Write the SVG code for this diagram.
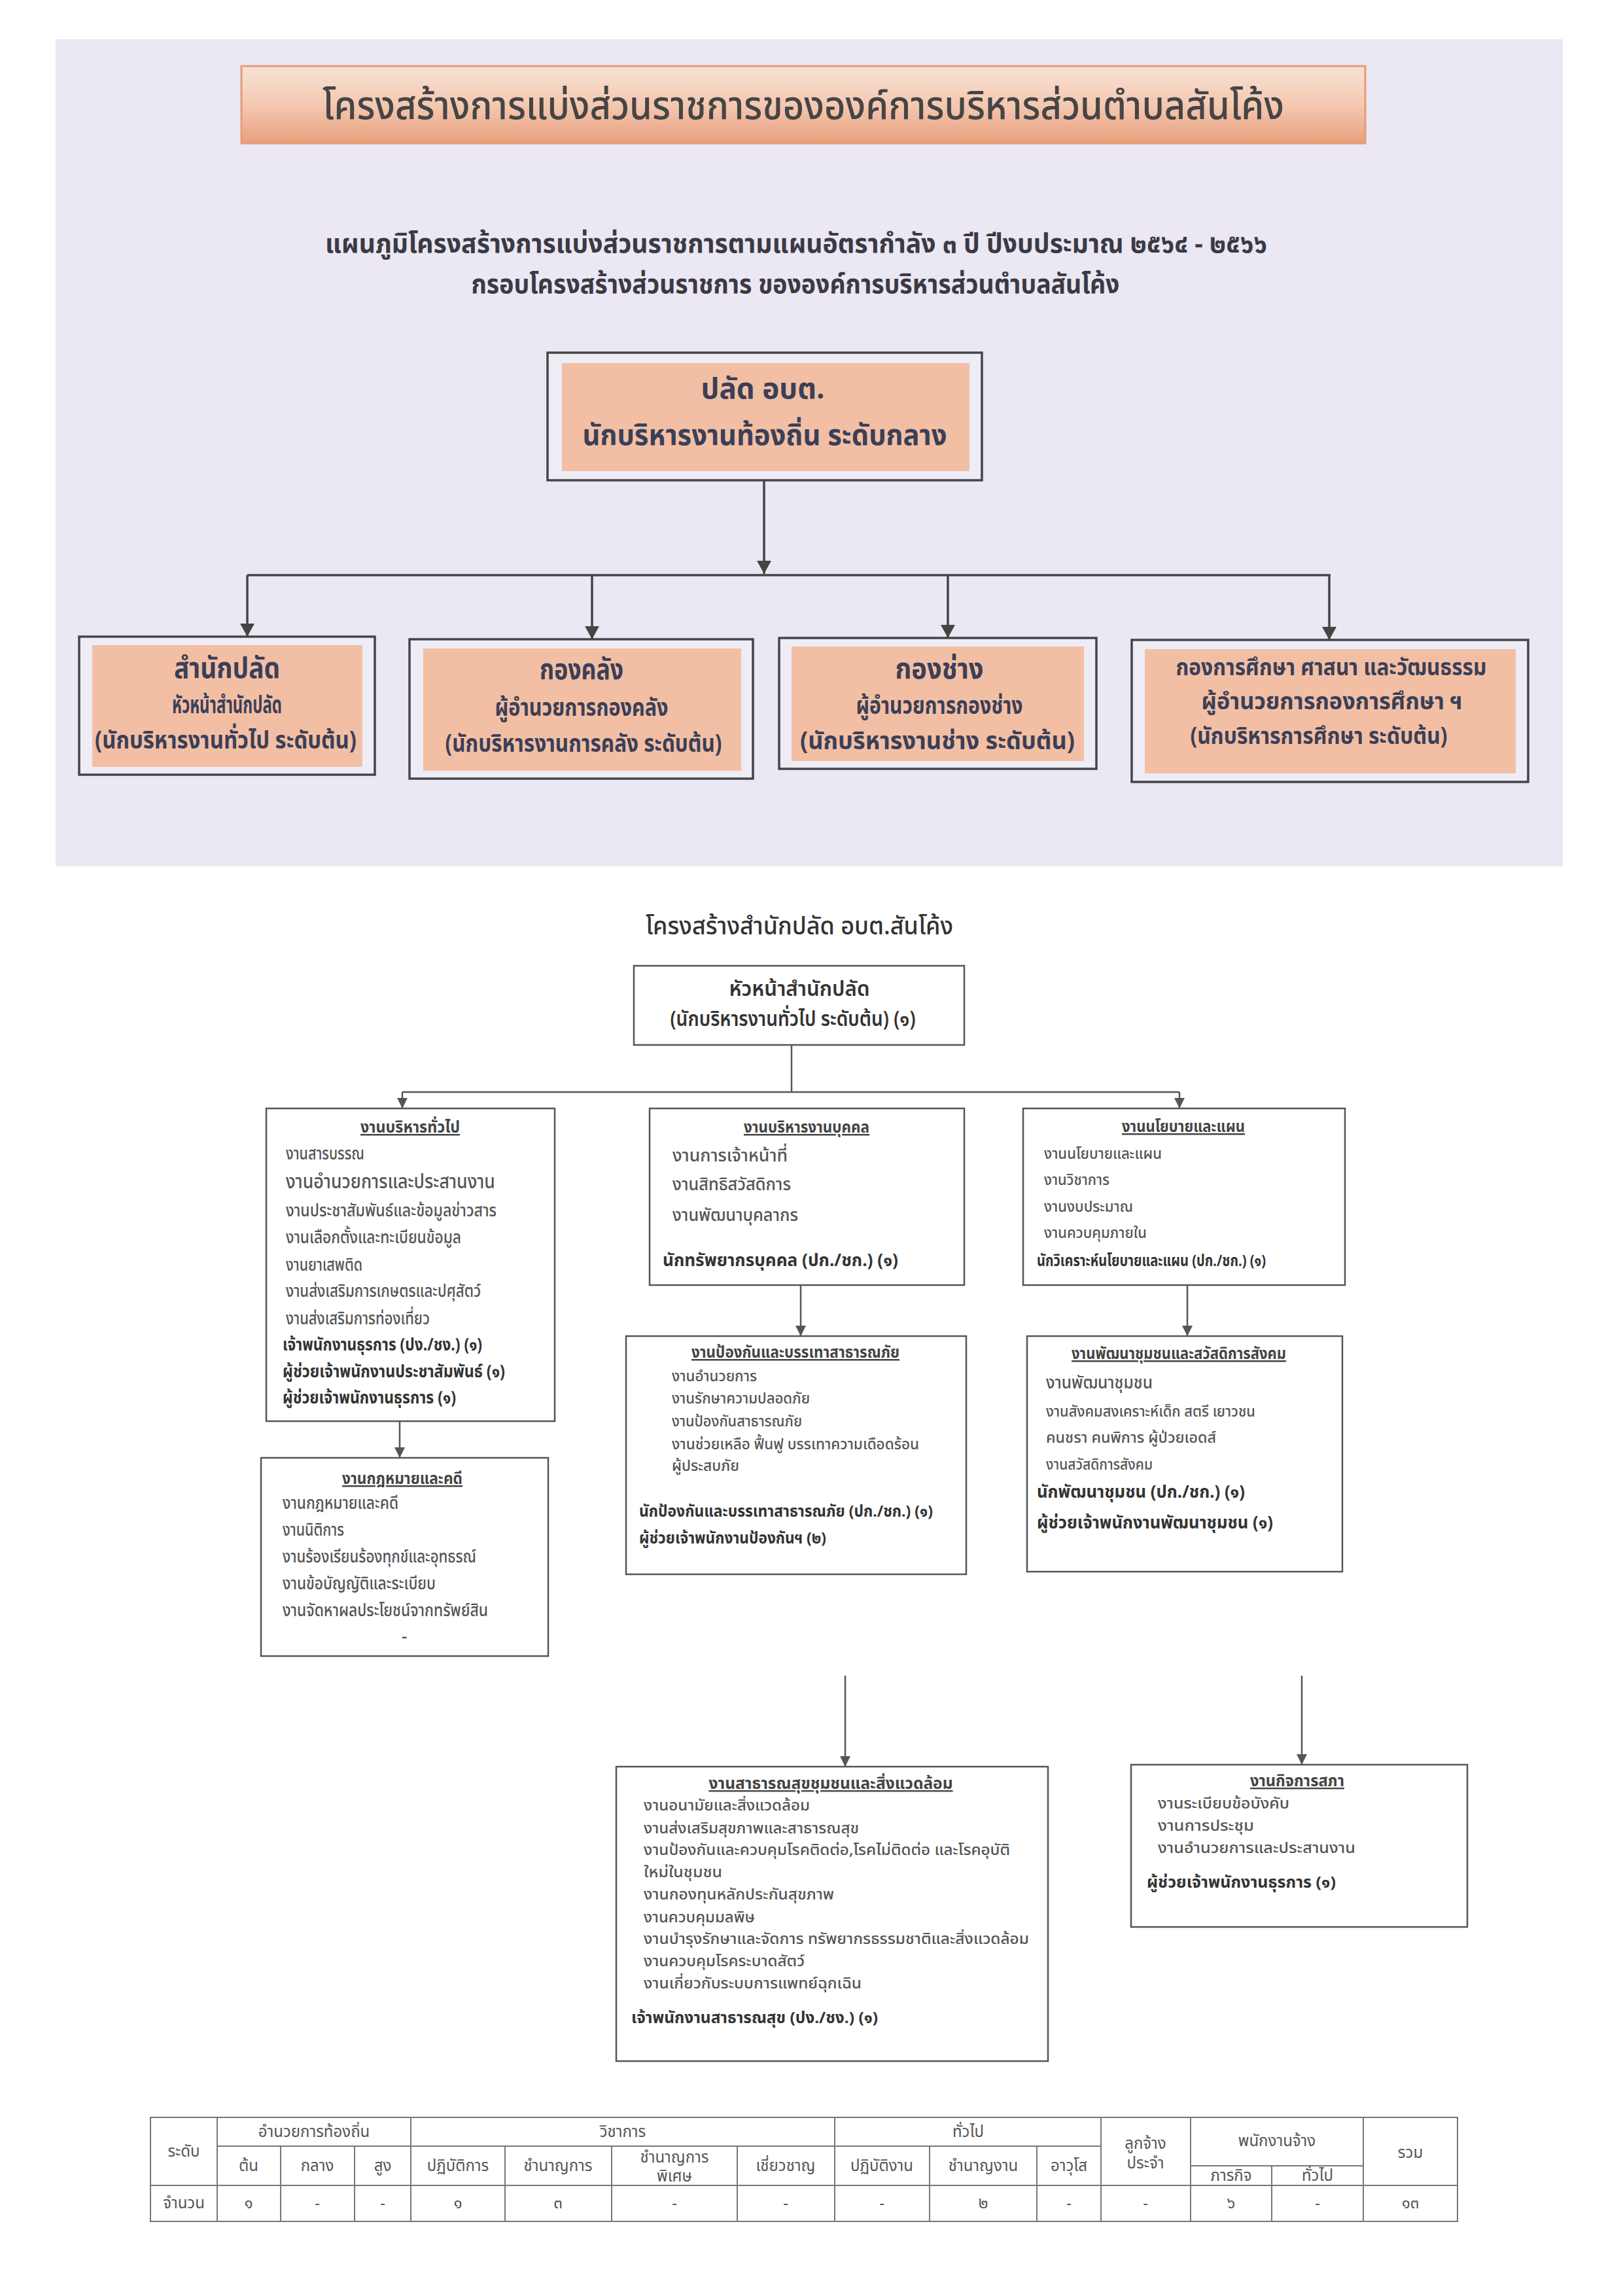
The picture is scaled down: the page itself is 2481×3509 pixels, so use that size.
<svg xmlns="http://www.w3.org/2000/svg" width="2481" height="3509" viewBox="0 0 2481 3509">
<style>
text{font-family:"Noto Sans Thai","Noto Sans","DejaVu Sans",sans-serif}
.t0{font-size:60px;font-weight:500;fill:#454545;text-anchor:middle}
.st{font-size:40px;font-weight:bold;fill:#3a3a44;text-anchor:middle}
.bx{fill:#eeecf5;stroke:#454545;stroke-width:3.5}
.in{fill:#f3bfa4}
.h1{font-size:44px;font-weight:bold;fill:#3b3f58;text-anchor:middle}
.h2{font-size:38px;font-weight:bold;fill:#3b3f58;text-anchor:middle}
.h3{font-size:35px;font-weight:bold;fill:#3b3f58;text-anchor:middle}
.lb{fill:#ffffff;stroke:#555;stroke-width:2.5}
.ltitle{font-size:38px;font-weight:500;fill:#333;text-anchor:middle}
.hd{font-size:32px;font-weight:600;fill:#333;text-anchor:middle}
.hg{font-size:25px;font-weight:bold;fill:#444;text-anchor:middle;text-decoration:underline}
.it{font-size:27px;font-weight:500;fill:#555}
.its{font-size:23px;font-weight:500;fill:#555}
.rl{font-size:27px;font-weight:bold;fill:#333}
.rls{font-size:24px;font-weight:bold;fill:#333}
.cn{fill:none;stroke:#454545;stroke-width:3.5}
.cl{fill:none;stroke:#555;stroke-width:2.5}
.tb{fill:none;stroke:#777;stroke-width:2}
.tt{font-size:24px;fill:#555;text-anchor:middle}
</style>
<defs>
<linearGradient id="ban" x1="0" y1="0" x2="0" y2="1">
<stop offset="0" stop-color="#f8e2d6"/>
<stop offset="0.5" stop-color="#f4c8b1"/>
<stop offset="1" stop-color="#e9a07c"/>
</linearGradient>
<marker id="a1" markerWidth="20" markerHeight="22" refX="20" refY="11" orient="auto" markerUnits="userSpaceOnUse"><path d="M0,0 L20,11 L0,22 z" fill="#454545"/></marker>
<marker id="a2" markerWidth="16" markerHeight="16" refX="16" refY="8" orient="auto" markerUnits="userSpaceOnUse"><path d="M0,0 L16,8 L0,16 z" fill="#555"/></marker>
</defs>
<rect x="0" y="0" width="2481" height="3509" fill="#ffffff"/>
<rect x="85" y="60" width="2304" height="1264" fill="#ebe7f3"/>

<g id="title">
<rect x="369" y="101" width="1718" height="118" fill="url(#ban)" stroke="#e59c79" stroke-width="3"/>
<text class="t0" x="1228" y="182" textLength="1470" lengthAdjust="spacingAndGlyphs">โครงสร้างการแบ่งส่วนราชการขององค์การบริหารส่วนตำบลสันโค้ง</text>
</g>
<g id="subtitle">
<text class="st" x="1217" y="386" textLength="1440" lengthAdjust="spacingAndGlyphs">แผนภูมิโครงสร้างการแบ่งส่วนราชการตามแผนอัตรากำลัง ๓ ปี ปีงบประมาณ ๒๕๖๔ - ๒๕๖๖</text>
<text class="st" x="1216" y="448" textLength="991" lengthAdjust="spacingAndGlyphs">กรอบโครงสร้างส่วนราชการ ขององค์การบริหารส่วนตำบลสันโค้ง</text>
</g>

<g id="node-palad">
<rect class="bx" x="837" y="539" width="664" height="195"/>
<rect class="in" x="859" y="555" width="623" height="165"/>
<text class="h1" x="1166" y="609" textLength="189" lengthAdjust="spacingAndGlyphs">ปลัด อบต.</text>
<text class="h1" x="1169" y="680" textLength="557" lengthAdjust="spacingAndGlyphs">นักบริหารงานท้องถิ่น ระดับกลาง</text>
</g>

<g id="node-office">
<rect class="bx" x="121" y="973" width="452" height="211"/>
<rect class="in" x="141" y="986" width="413" height="186"/>
<text class="h1" x="347" y="1036" textLength="162" lengthAdjust="spacingAndGlyphs">สำนักปลัด</text>
<text class="h2" x="347" y="1090" textLength="168" lengthAdjust="spacingAndGlyphs">หัวหน้าสำนักปลัด</text>
<text class="h2" x="345" y="1144" textLength="400" lengthAdjust="spacingAndGlyphs">(นักบริหารงานทั่วไป ระดับต้น)</text>
</g>

<g id="node-finance">
<rect class="bx" x="626" y="977" width="525" height="213"/>
<rect class="in" x="647" y="991" width="486" height="187"/>
<text class="h1" x="889" y="1038" textLength="128" lengthAdjust="spacingAndGlyphs">กองคลัง</text>
<text class="h2" x="889" y="1094" textLength="265" lengthAdjust="spacingAndGlyphs">ผู้อำนวยการกองคลัง</text>
<text class="h2" x="892" y="1149" textLength="423" lengthAdjust="spacingAndGlyphs">(นักบริหารงานการคลัง ระดับต้น)</text>
</g>

<g id="node-engineering">
<rect class="bx" x="1191" y="975" width="485" height="200"/>
<rect class="in" x="1210" y="988" width="447" height="175"/>
<text class="h1" x="1436" y="1037" textLength="135" lengthAdjust="spacingAndGlyphs">กองช่าง</text>
<text class="h2" x="1436" y="1091" textLength="255" lengthAdjust="spacingAndGlyphs">ผู้อำนวยการกองช่าง</text>
<text class="h2" x="1433" y="1145" textLength="420" lengthAdjust="spacingAndGlyphs">(นักบริหารงานช่าง ระดับต้น)</text>
</g>

<g id="node-education">
<rect class="bx" x="1730" y="978" width="606" height="217"/>
<rect class="in" x="1750" y="992" width="567" height="190"/>
<text class="h3" x="2035" y="1032" textLength="475" lengthAdjust="spacingAndGlyphs">กองการศึกษา ศาสนา และวัฒนธรรม</text>
<text class="h3" x="2036" y="1084" textLength="399" lengthAdjust="spacingAndGlyphs">ผู้อำนวยการกองการศึกษา ฯ</text>
<text class="h3" x="2016" y="1137" textLength="393" lengthAdjust="spacingAndGlyphs">(นักบริหารการศึกษา ระดับต้น)</text>
</g>

<g id="connectors-top">
<path class="cn" d="M1168 734 V877" marker-end="url(#a1)"/>
<path class="cn" d="M378 879 H2034"/>
<path class="cn" d="M378 879 V973" marker-end="url(#a1)"/>
<path class="cn" d="M905 879 V977" marker-end="url(#a1)"/>
<path class="cn" d="M1449 879 V975" marker-end="url(#a1)"/>
<path class="cn" d="M2032 879 V978" marker-end="url(#a1)"/>
</g>

<g id="lower-title">
<text class="ltitle" x="1222" y="1428" textLength="470" lengthAdjust="spacingAndGlyphs">โครงสร้างสำนักปลัด อบต.สันโค้ง</text>
</g>

<g id="node-head">
<rect class="lb" x="969" y="1476" width="505" height="121"/>
<text class="hd" x="1222" y="1522" textLength="215" lengthAdjust="spacingAndGlyphs">หัวหน้าสำนักปลัด</text>
<text class="hd" x="1212" y="1568" textLength="375" lengthAdjust="spacingAndGlyphs">(นักบริหารงานทั่วไป ระดับต้น) (๑)</text>
</g>

<g id="node-general">
<rect class="lb" x="407" y="1694" width="441" height="478"/>
<text class="hg" x="627" y="1731" textLength="152" lengthAdjust="spacingAndGlyphs">งานบริหารทั่วไป</text>
<text class="it" x="437" y="1772" textLength="120" lengthAdjust="spacingAndGlyphs">งานสารบรรณ</text>
<text class="it" x="437" y="1816" style="font-size:30px" textLength="320" lengthAdjust="spacingAndGlyphs">งานอำนวยการและประสานงาน</text>
<text class="it" x="437" y="1859" textLength="322" lengthAdjust="spacingAndGlyphs">งานประชาสัมพันธ์และข้อมูลข่าวสาร</text>
<text class="it" x="437" y="1900" textLength="268" lengthAdjust="spacingAndGlyphs">งานเลือกตั้งและทะเบียนข้อมูล</text>
<text class="it" x="437" y="1942" textLength="117" lengthAdjust="spacingAndGlyphs">งานยาเสพติด</text>
<text class="it" x="437" y="1982" textLength="298" lengthAdjust="spacingAndGlyphs">งานส่งเสริมการเกษตรและปศุสัตว์</text>
<text class="it" x="437" y="2024" textLength="220" lengthAdjust="spacingAndGlyphs">งานส่งเสริมการท่องเที่ยว</text>
<text class="rl" x="432" y="2064" textLength="305" lengthAdjust="spacingAndGlyphs">เจ้าพนักงานธุรการ (ปง./ชง.) (๑)</text>
<text class="rl" x="432" y="2105" textLength="340" lengthAdjust="spacingAndGlyphs">ผู้ช่วยเจ้าพนักงานประชาสัมพันธ์ (๑)</text>
<text class="rl" x="432" y="2145" textLength="265" lengthAdjust="spacingAndGlyphs">ผู้ช่วยเจ้าพนักงานธุรการ (๑)</text>
</g>

<g id="node-law">
<rect class="lb" x="399" y="2228" width="439" height="303"/>
<text class="hg" x="615" y="2268" textLength="184" lengthAdjust="spacingAndGlyphs">งานกฎหมายและคดี</text>
<text class="it" x="432" y="2306" textLength="177" lengthAdjust="spacingAndGlyphs">งานกฎหมายและคดี</text>
<text class="it" x="432" y="2347" textLength="94" lengthAdjust="spacingAndGlyphs">งานนิติการ</text>
<text class="it" x="432" y="2388" textLength="296" lengthAdjust="spacingAndGlyphs">งานร้องเรียนร้องทุกข์และอุทธรณ์</text>
<text class="it" x="432" y="2429" textLength="234" lengthAdjust="spacingAndGlyphs">งานข้อบัญญัติและระเบียบ</text>
<text class="it" x="432" y="2470" textLength="314" lengthAdjust="spacingAndGlyphs">งานจัดหาผลประโยชน์จากทรัพย์สิน</text>
<text class="it" x="618" y="2510" style="text-anchor:middle">-</text>
</g>

<g id="node-personnel">
<rect class="lb" x="993" y="1694" width="481" height="270"/>
<text class="hg" x="1233" y="1731" textLength="192" lengthAdjust="spacingAndGlyphs">งานบริหารงานบุคคล</text>
<text class="it" x="1028" y="1775" textLength="176" lengthAdjust="spacingAndGlyphs">งานการเจ้าหน้าที่</text>
<text class="it" x="1028" y="1819" textLength="181" lengthAdjust="spacingAndGlyphs">งานสิทธิสวัสดิการ</text>
<text class="it" x="1028" y="1866" textLength="192" lengthAdjust="spacingAndGlyphs">งานพัฒนาบุคลากร</text>
<text class="rl" x="1013" y="1935" textLength="360" lengthAdjust="spacingAndGlyphs">นักทรัพยากรบุคคล (ปก./ชก.) (๑)</text>
</g>

<g id="node-disaster">
<rect class="lb" x="957" y="2042" width="520" height="364"/>
<text class="hg" x="1216" y="2075" textLength="318" lengthAdjust="spacingAndGlyphs">งานป้องกันและบรรเทาสาธารณภัย</text>
<text class="its" x="1027" y="2111" textLength="130" lengthAdjust="spacingAndGlyphs">งานอำนวยการ</text>
<text class="its" x="1027" y="2145" textLength="211" lengthAdjust="spacingAndGlyphs">งานรักษาความปลอดภัย</text>
<text class="its" x="1027" y="2180" textLength="199" lengthAdjust="spacingAndGlyphs">งานป้องกันสาธารณภัย</text>
<text class="its" x="1027" y="2215" textLength="378" lengthAdjust="spacingAndGlyphs">งานช่วยเหลือ ฟื้นฟู บรรเทาความเดือดร้อน</text>
<text class="its" x="1027" y="2248" textLength="103" lengthAdjust="spacingAndGlyphs">ผู้ประสบภัย</text>
<text class="rls" x="977" y="2318" textLength="449" lengthAdjust="spacingAndGlyphs">นักป้องกันและบรรเทาสาธารณภัย (ปก./ชก.) (๑)</text>
<text class="rls" x="977" y="2359" textLength="286" lengthAdjust="spacingAndGlyphs">ผู้ช่วยเจ้าพนักงานป้องกันฯ (๒)</text>
</g>

<g id="node-policy">
<rect class="lb" x="1564" y="1694" width="492" height="270"/>
<text class="hg" x="1809" y="1730" textLength="188" lengthAdjust="spacingAndGlyphs">งานนโยบายและแผน</text>
<text class="its" x="1596" y="1771" textLength="180" lengthAdjust="spacingAndGlyphs">งานนโยบายและแผน</text>
<text class="its" x="1596" y="1811" textLength="100" lengthAdjust="spacingAndGlyphs">งานวิชาการ</text>
<text class="its" x="1596" y="1852" textLength="136" lengthAdjust="spacingAndGlyphs">งานงบประมาณ</text>
<text class="its" x="1596" y="1892" textLength="157" lengthAdjust="spacingAndGlyphs">งานควบคุมภายใน</text>
<text class="rls" x="1585" y="1935" textLength="350" lengthAdjust="spacingAndGlyphs">นักวิเคราะห์นโยบายและแผน (ปก./ชก.) (๑)</text>
</g>

<g id="node-community">
<rect class="lb" x="1570" y="2042" width="482" height="360"/>
<text class="hg" x="1802" y="2077" textLength="328" lengthAdjust="spacingAndGlyphs">งานพัฒนาชุมชนและสวัสดิการสังคม</text>
<text class="it" x="1599" y="2122" textLength="163" lengthAdjust="spacingAndGlyphs">งานพัฒนาชุมชน</text>
<text class="its" x="1599" y="2165" textLength="320" lengthAdjust="spacingAndGlyphs">งานสังคมสงเคราะห์เด็ก สตรี เยาวชน</text>
<text class="its" x="1599" y="2205" textLength="260" lengthAdjust="spacingAndGlyphs">คนชรา  คนพิการ  ผู้ป่วยเอดส์</text>
<text class="its" x="1599" y="2246" textLength="163" lengthAdjust="spacingAndGlyphs">งานสวัสดิการสังคม</text>
<text class="rl" x="1585" y="2289" textLength="318" lengthAdjust="spacingAndGlyphs">นักพัฒนาชุมชน (ปก./ชก.) (๑)</text>
<text class="rl" x="1585" y="2336" textLength="361" lengthAdjust="spacingAndGlyphs">ผู้ช่วยเจ้าพนักงานพัฒนาชุมชน (๑)</text>
</g>

<g id="node-health">
<rect class="lb" x="942" y="2700" width="660" height="450"/>
<text class="hg" x="1270" y="2734" style="font-size:24px" textLength="373" lengthAdjust="spacingAndGlyphs">งานสาธารณสุขชุมชนและสิ่งแวดล้อม</text>
<text class="its" x="984" y="2767" textLength="254" lengthAdjust="spacingAndGlyphs">งานอนามัยและสิ่งแวดล้อม</text>
<text class="its" x="984" y="2802" textLength="329" lengthAdjust="spacingAndGlyphs">งานส่งเสริมสุขภาพและสาธารณสุข</text>
<text class="its" x="984" y="2835" textLength="560" lengthAdjust="spacingAndGlyphs">งานป้องกันและควบคุมโรคติดต่อ,โรคไม่ติดต่อ และโรคอุบัติ</text>
<text class="its" x="984" y="2869" textLength="120" lengthAdjust="spacingAndGlyphs">ใหม่ในชุมชน</text>
<text class="its" x="984" y="2903" textLength="291" lengthAdjust="spacingAndGlyphs">งานกองทุนหลักประกันสุขภาพ</text>
<text class="its" x="984" y="2938" textLength="170" lengthAdjust="spacingAndGlyphs">งานควบคุมมลพิษ</text>
<text class="its" x="984" y="2971" textLength="589" lengthAdjust="spacingAndGlyphs">งานบำรุงรักษาและจัดการ ทรัพยากรธรรมชาติและสิ่งแวดล้อม</text>
<text class="its" x="984" y="3005" textLength="246" lengthAdjust="spacingAndGlyphs">งานควบคุมโรคระบาดสัตว์</text>
<text class="its" x="984" y="3039" textLength="333" lengthAdjust="spacingAndGlyphs">งานเกี่ยวกับระบบการแพทย์ฉุกเฉิน</text>
<text class="rls" x="965" y="3092" textLength="377" lengthAdjust="spacingAndGlyphs">เจ้าพนักงานสาธารณสุข (ปง./ชง.) (๑)</text>
</g>

<g id="node-council">
<rect class="lb" x="1729" y="2697" width="514" height="248"/>
<text class="hg" x="1983" y="2730" style="font-size:24px" textLength="144" lengthAdjust="spacingAndGlyphs">งานกิจการสภา</text>
<text class="its" x="1770" y="2764" textLength="201" lengthAdjust="spacingAndGlyphs">งานระเบียบข้อบังคับ</text>
<text class="its" x="1770" y="2798" textLength="147" lengthAdjust="spacingAndGlyphs">งานการประชุม</text>
<text class="its" x="1770" y="2832" textLength="302" lengthAdjust="spacingAndGlyphs">งานอำนวยการและประสานงาน</text>
<text class="rls" x="1753" y="2885" textLength="289" lengthAdjust="spacingAndGlyphs">ผู้ช่วยเจ้าพนักงานธุรการ (๑)</text>
</g>

<g id="connectors-lower">
<path class="cl" d="M1210 1597 V1669"/>
<path class="cl" d="M615 1669 H1803"/>
<path class="cl" d="M615 1669 V1694" marker-end="url(#a2)"/>
<path class="cl" d="M1803 1669 V1694" marker-end="url(#a2)"/>
<path class="cl" d="M611 2172 V2228" marker-end="url(#a2)"/>
<path class="cl" d="M1224 1964 V2042" marker-end="url(#a2)"/>
<path class="cl" d="M1815 1964 V2042" marker-end="url(#a2)"/>
<path class="cl" d="M1292 2561 V2700" marker-end="url(#a2)"/>
<path class="cl" d="M1990 2561 V2697" marker-end="url(#a2)"/>
</g>

<g id="table">
<rect class="tb" x="230" y="3236" width="1998" height="159"/>
<path class="tb" d="M332 3236 V3395 M628 3236 V3395 M1276 3236 V3395 M1683 3236 V3395 M1820 3236 V3395 M2084 3236 V3395"/>
<path class="tb" d="M429 3280 V3395 M542 3280 V3395 M772 3280 V3395 M935 3280 V3395 M1127 3280 V3395 M1421 3280 V3395 M1585 3280 V3395 M1944 3310 V3395"/>
<path class="tb" d="M332 3280 H1683 M1820 3310 H2084 M230 3340 H2228"/>
<text class="tt" x="281" y="3296">ระดับ</text>
<text class="tt" x="480" y="3266">อำนวยการท้องถิ่น</text>
<text class="tt" x="952" y="3266">วิชาการ</text>
<text class="tt" x="1480" y="3266">ทั่วไป</text>
<text class="tt" x="1751" y="3284">ลูกจ้าง</text>
<text class="tt" x="1751" y="3314">ประจำ</text>
<text class="tt" x="1952" y="3280">พนักงานจ้าง</text>
<text class="tt" x="2156" y="3298">รวม</text>
<text class="tt" x="380" y="3318">ต้น</text>
<text class="tt" x="485" y="3318">กลาง</text>
<text class="tt" x="585" y="3318">สูง</text>
<text class="tt" x="700" y="3318">ปฏิบัติการ</text>
<text class="tt" x="853" y="3318">ชำนาญการ</text>
<text class="tt" x="1031" y="3305">ชำนาญการ</text>
<text class="tt" x="1031" y="3334">พิเศษ</text>
<text class="tt" x="1201" y="3318">เชี่ยวชาญ</text>
<text class="tt" x="1348" y="3318">ปฏิบัติงาน</text>
<text class="tt" x="1503" y="3318">ชำนาญงาน</text>
<text class="tt" x="1634" y="3318">อาวุโส</text>
<text class="tt" x="1882" y="3333">ภารกิจ</text>
<text class="tt" x="2014" y="3333">ทั่วไป</text>
<text class="tt" x="281" y="3375">จำนวน</text>
<text class="tt" x="380" y="3375">๑</text>
<text class="tt" x="485" y="3375">-</text>
<text class="tt" x="585" y="3375">-</text>
<text class="tt" x="700" y="3375">๑</text>
<text class="tt" x="853" y="3375">๓</text>
<text class="tt" x="1031" y="3375">-</text>
<text class="tt" x="1201" y="3375">-</text>
<text class="tt" x="1348" y="3375">-</text>
<text class="tt" x="1503" y="3375">๒</text>
<text class="tt" x="1634" y="3375">-</text>
<text class="tt" x="1751" y="3375">-</text>
<text class="tt" x="1882" y="3375">๖</text>
<text class="tt" x="2014" y="3375">-</text>
<text class="tt" x="2156" y="3375">๑๓</text>
</g>
</svg>
